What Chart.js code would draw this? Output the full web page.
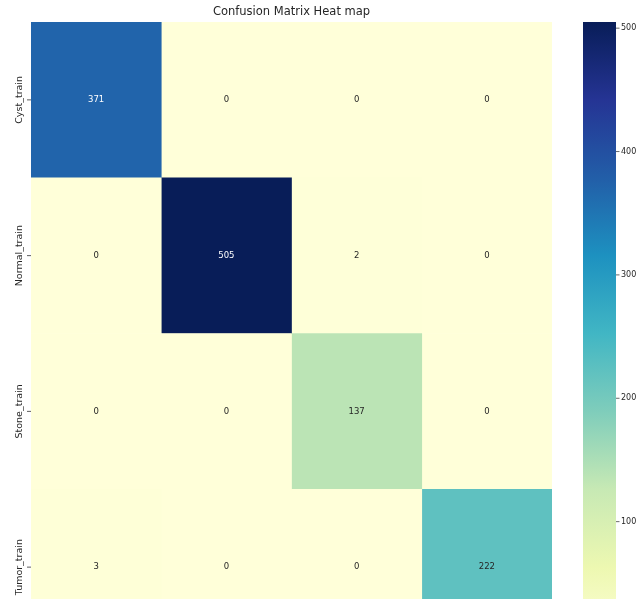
<!DOCTYPE html>
<html>
<head>
<meta charset="utf-8">
<title>Confusion Matrix Heat map</title>
<script src="https://cdn.jsdelivr.net/npm/chart.js@4.4.0/dist/chart.umd.min.js"></script>
<style>
  html, body { margin: 0; padding: 0; background: #fff; overflow: hidden; }
  #frame { position: relative; width: 644px; height: 599px; overflow: hidden; background: #fff; }
  #heat { position: absolute; left: 0; top: 0; }
  #cbar { position: absolute; left: 560px; top: 0; }
</style>
</head>
<body>
<div id="frame">
  <canvas id="heat" width="570" height="660"></canvas>
  <canvas id="cbar" width="84" height="660"></canvas>
</div>
<script>
// Row (actual) labels and predicted columns
const rowLabels = ['Cyst_train', 'Normal_train', 'Stone_train', 'Tumor_train'];
const colLabels = ['Cyst', 'Normal', 'Stone', 'Tumor'];

// Confusion counts, one array per actual class
const cystRow   = [371, 0, 0, 0];
const normalRow = [0, 505, 2, 0];
const stoneRow  = [0, 0, 137, 0];
const tumorRow  = [3, 0, 0, 222];

// Colour bar tick values
const colorbarTicks = [100, 200, 300, 400, 500];

const matrix = [cystRow, normalRow, stoneRow, tumorRow];
const allValues = matrix.flat();
const vmin = Math.min(...allValues);
const vmax = Math.max(...allValues);

// YlGnBu palette
const palette = ['#ffffd9', '#edf8b1', '#c7e9b4', '#7fcdbb', '#41b6c4',
                 '#1d91c0', '#225ea8', '#253494', '#081d58'];
const FONT = '"DejaVu Sans", "Liberation Sans", sans-serif';

function hexToRgb(h) {
  return [parseInt(h.slice(1, 3), 16), parseInt(h.slice(3, 5), 16), parseInt(h.slice(5, 7), 16)];
}
function colorRgb(v) {
  let t = (v - vmin) / (vmax - vmin);
  t = Math.max(0, Math.min(1, t)) * (palette.length - 1);
  const i = Math.min(Math.floor(t), palette.length - 2);
  const f = t - i;
  const a = hexToRgb(palette[i]), b = hexToRgb(palette[i + 1]);
  return a.map((c, k) => Math.round(c + (b[k] - c) * f));
}
function cmap(v) {
  const [r, g, b] = colorRgb(v);
  return `rgb(${r},${g},${b})`;
}
function luminance(rgb) {
  const lin = rgb.map(c => {
    c /= 255;
    return c <= 0.03928 ? c / 12.92 : Math.pow((c + 0.055) / 1.055, 2.4);
  });
  return 0.2126 * lin[0] + 0.7152 * lin[1] + 0.0722 * lin[2];
}

// Annotations, row labels and title for the heat map
const heatDecor = {
  id: 'heatDecor',
  afterDatasetsDraw(chart) {
    const ctx = chart.ctx;
    ctx.save();
    ctx.textAlign = 'center';
    ctx.textBaseline = 'middle';
    ctx.font = `8.5px ${FONT}`;
    chart.data.datasets.forEach((ds, j) => {
      const meta = chart.getDatasetMeta(j);
      meta.data.forEach((el, i) => {
        const v = matrix[i][j];
        const c = el.getCenterPoint();
        ctx.fillStyle = luminance(colorRgb(v)) > 0.408 ? '#262626' : '#ffffff';
        ctx.fillText(String(v), c.x, c.y);
      });
    });

    const yScale = chart.scales.y;
    const left = chart.chartArea.left;
    ctx.strokeStyle = '#333';
    ctx.lineWidth = 0.8;
    ctx.fillStyle = '#262626';
    ctx.font = `9.5px ${FONT}`;
    rowLabels.forEach((lab, i) => {
      const py = yScale.getPixelForValue(i);
      ctx.beginPath();
      ctx.moveTo(left - 4, py);
      ctx.lineTo(left, py);
      ctx.stroke();
      ctx.save();
      ctx.translate(left - 11, py);
      ctx.rotate(-Math.PI / 2);
      ctx.fillText(lab, 0, 0);
      ctx.restore();
    });

    ctx.font = `11.5px ${FONT}`;
    ctx.fillStyle = '#262626';
    ctx.fillText('Confusion Matrix Heat map', (chart.chartArea.left + chart.chartArea.right) / 2, 12);
    ctx.restore();
  }
};

new Chart(document.getElementById('heat'), {
  type: 'bar',
  data: {
    labels: rowLabels,
    datasets: colLabels.map((name, j) => ({
      label: name,
      data: rowLabels.map(() => [j, j + 1]),
      backgroundColor: matrix.map(row => cmap(row[j])),
      borderWidth: 0,
      barPercentage: 1,
      categoryPercentage: 1,
      grouped: false
    }))
  },
  options: {
    indexAxis: 'y',
    responsive: false,
    animation: false,
    devicePixelRatio: 1,
    layout: { padding: { left: 31, top: 22, right: 18, bottom: 15 } },
    plugins: { legend: { display: false }, tooltip: { enabled: false }, title: { display: false } },
    scales: {
      x: { type: 'linear', min: 0, max: colLabels.length, display: false },
      y: { type: 'category', display: false, offset: true }
    }
  },
  plugins: [heatDecor]
});

// Tick marks and labels beside the colour bar, placed by its value scale
const cbarTicks = {
  id: 'cbarTicks',
  afterDraw(chart) {
    const ctx = chart.ctx;
    const y = chart.scales.y;
    const right = chart.chartArea.right;
    ctx.save();
    ctx.strokeStyle = '#444';
    ctx.lineWidth = 0.8;
    ctx.fillStyle = '#262626';
    ctx.font = `8px ${FONT}`;
    ctx.textAlign = 'left';
    ctx.textBaseline = 'middle';
    colorbarTicks.forEach(v => {
      const py = y.getPixelForValue(v);
      ctx.beginPath();
      ctx.moveTo(right, py);
      ctx.lineTo(right + 3.5, py);
      ctx.stroke();
      ctx.fillText(String(v), right + 5, py);
    });
    ctx.restore();
  }
};

// Colour bar: one bar spanning the value range, filled with the palette
new Chart(document.getElementById('cbar'), {
  type: 'bar',
  data: {
    labels: [''],
    datasets: [{
      data: [[vmin, vmax]],
      backgroundColor: (c) => {
        const chart = c.chart;
        if (!chart.chartArea) return palette[0];
        const y = chart.scales.y;
        const g = chart.ctx.createLinearGradient(0, y.getPixelForValue(vmin), 0, y.getPixelForValue(vmax));
        palette.forEach((col, k) => g.addColorStop(k / (palette.length - 1), col));
        return g;
      },
      borderWidth: 0,
      barPercentage: 1,
      categoryPercentage: 1
    }]
  },
  options: {
    responsive: false,
    animation: false,
    devicePixelRatio: 1,
    layout: { padding: { left: 23, top: 22, right: 28, bottom: 15 } },
    plugins: { legend: { display: false }, tooltip: { enabled: false } },
    scales: {
      x: { display: false },
      y: { display: false, min: vmin, max: vmax }
    }
  },
  plugins: [cbarTicks]
});
</script>
</body>
</html>
